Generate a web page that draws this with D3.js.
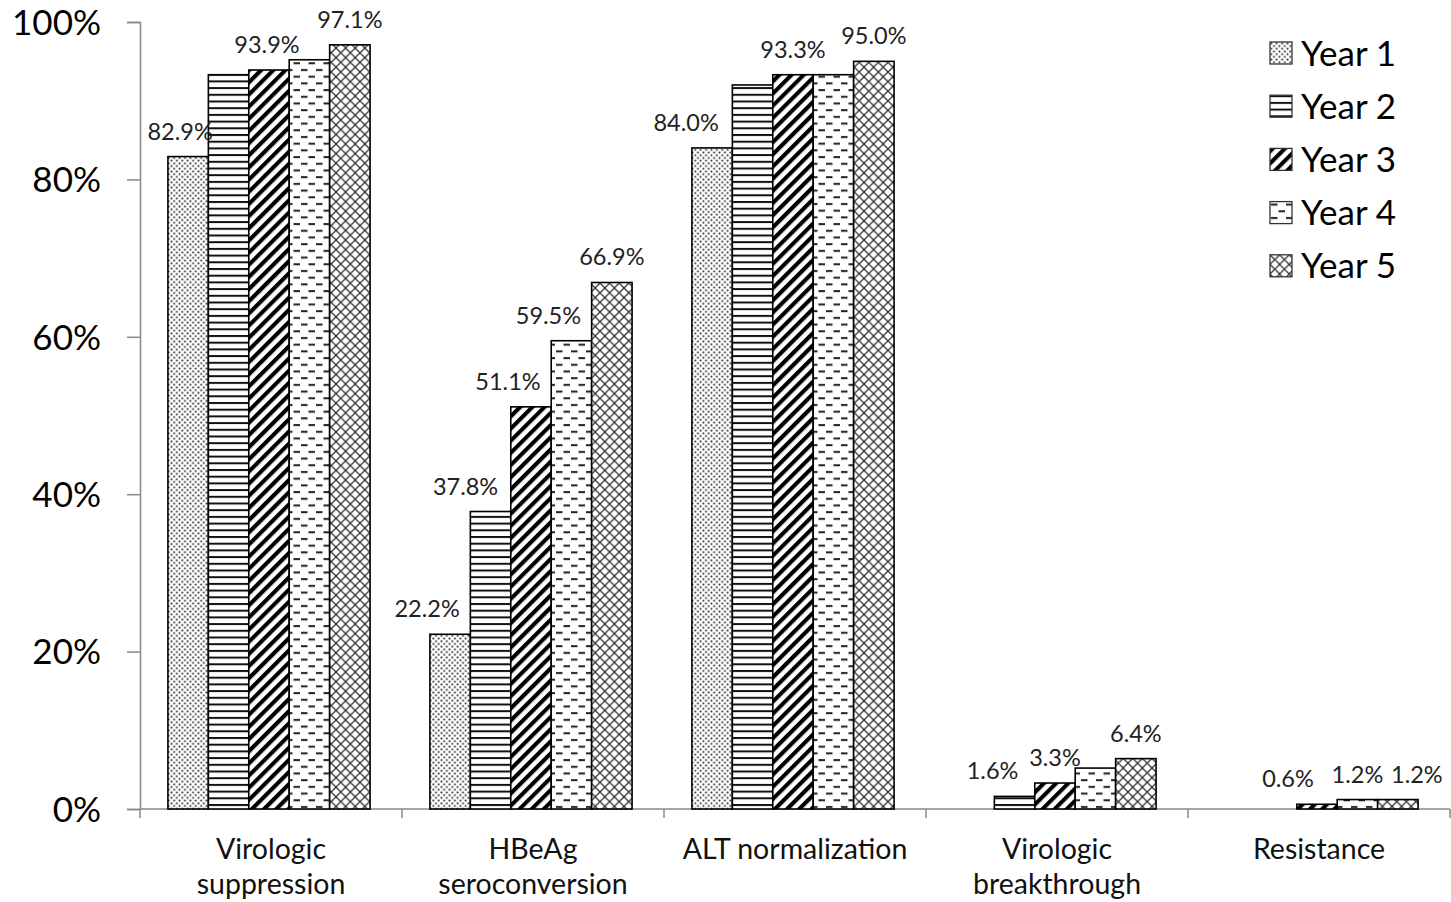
<!DOCTYPE html>
<html>
<head>
<meta charset="utf-8">
<script src="https://cdn.jsdelivr.net/npm/d3@7/dist/d3.min.js"></script>
<style>
  html, body { margin: 0; padding: 0; background: #fff; }
  svg { display: block; font-family: Lato, "Open Sans", sans-serif; }
</style>
</head>
<body>
<svg id="chart" width="1451" height="902"></svg>
<script>
// Outcome categories (two-line labels)
const categories = [
  ["Virologic", "suppression"],
  ["HBeAg", "seroconversion"],
  ["ALT normalization"],
  ["Virologic", "breakthrough"],
  ["Resistance"]
];
const years = ["Year 1", "Year 2", "Year 3", "Year 4", "Year 5"];

// Percent values per year, one entry per category
const year1 = [82.9, 22.2, 84.0, 0, 0];
const year2 = [93.3, 37.8, 92.0, 1.6, 0];
const year3 = [93.9, 51.1, 93.3, 3.3, 0.6];
const year4 = [95.2, 59.5, 93.3, 5.2, 1.2];
const year5 = [97.1, 66.9, 95.0, 6.4, 1.2];
const seriesValues = [year1, year2, year3, year4, year5];

// Which bars carry a value label
const labelled = [
  [true, true, true, false, false],
  [false, true, false, true, false],
  [true, true, true, true, true],
  [false, true, false, false, true],
  [true, true, true, true, true]
];

const yTicks = [0, 20, 40, 60, 80, 100];

const svg = d3.select("#chart");
const margin = { left: 140, right: 1, top: 22, bottom: 93 };
const W = 1451, H = 902;
const x0 = margin.left, x1 = W - margin.right;
const yTop = margin.top, yBottom = H - margin.bottom;

const x = d3.scaleBand().domain(d3.range(categories.length)).range([x0, x1]).paddingInner(0).paddingOuter(0);
const xi = d3.scaleBand().domain(d3.range(years.length)).range([-2, x.bandwidth() - 2]).paddingOuter(0.74).paddingInner(0);
const y = d3.scaleLinear().domain([0, 100]).range([yBottom, yTop]);

// Fill patterns for the five series
const defs = svg.append("defs");
// Year 1: staggered fine dots
{
  const p = defs.append("pattern").attr("id", "pat0").attr("patternUnits", "userSpaceOnUse")
    .attr("width", 5.4).attr("height", 5.4);
  p.append("rect").attr("width", 5.4).attr("height", 5.4).attr("fill", "#fff");
  p.append("rect").attr("x", 0.5).attr("y", 0.5).attr("width", 1.7).attr("height", 1.7).attr("fill", "#222");
  p.append("rect").attr("x", 3.2).attr("y", 3.2).attr("width", 1.7).attr("height", 1.7).attr("fill", "#222");
}
// Year 2: horizontal lines
{
  const p = defs.append("pattern").attr("id", "pat1").attr("patternUnits", "userSpaceOnUse")
    .attr("width", 8).attr("height", 6.7);
  p.append("rect").attr("width", 8).attr("height", 6.7).attr("fill", "#fff");
  p.append("rect").attr("x", 0).attr("y", 0).attr("width", 8).attr("height", 2).attr("fill", "#111");
}
// Year 3: wide diagonal stripes
{
  const p = defs.append("pattern").attr("id", "pat2").attr("patternUnits", "userSpaceOnUse")
    .attr("width", 8.6).attr("height", 8.6).attr("patternTransform", "rotate(45)");
  p.append("rect").attr("width", 8.6).attr("height", 8.6).attr("fill", "#fff");
  p.append("rect").attr("x", 0).attr("y", 0).attr("width", 4.1).attr("height", 8.6).attr("fill", "#000");
}
// Year 4: staggered horizontal dashes
{
  const p = defs.append("pattern").attr("id", "pat3").attr("patternUnits", "userSpaceOnUse")
    .attr("width", 15).attr("height", 13.4);
  p.append("rect").attr("width", 15).attr("height", 13.4).attr("fill", "#fff");
  p.append("rect").attr("x", 1).attr("y", 2).attr("width", 6.5).attr("height", 2).attr("fill", "#222");
  p.append("rect").attr("x", 8.5).attr("y", 8.7).attr("width", 6.5).attr("height", 2).attr("fill", "#222");
}
// Year 5: diagonal cross-hatch
{
  const s = 9.6;
  const p = defs.append("pattern").attr("id", "pat4").attr("patternUnits", "userSpaceOnUse")
    .attr("width", s).attr("height", s);
  p.append("rect").attr("width", s).attr("height", s).attr("fill", "#fff");
  p.append("path")
    .attr("d", `M0,0L${s},${s}M${s},0L0,${s}M${-s/2},${s/2}L${s/2},${1.5*s}M${s/2},${-s/2}L${1.5*s},${s/2}M${s/2},${1.5*s}L${1.5*s},${s/2}M${-s/2},${s/2}L${s/2},${-s/2}`)
    .attr("stroke", "#2a2a2a").attr("stroke-width", 1.2).attr("fill", "none");
}

// Axes
const gy = svg.append("g").attr("transform", `translate(${x0},0)`)
  .call(d3.axisLeft(y).tickValues(yTicks).tickSize(13).tickPadding(26).tickFormat(d => d + "%"));
gy.select(".domain").attr("stroke", "#888").attr("stroke-width", 1.5);
gy.selectAll(".tick line").attr("stroke", "#888").attr("stroke-width", 1.5);
gy.selectAll(".tick text").attr("font-size", 35).attr("fill", "#000").attr("dy", "0.35em")
  .attr("font-family", "Lato, 'Open Sans', sans-serif");

const xTickPos = d3.range(categories.length + 1).map(i => x0 + i * x.step());
svg.append("line").attr("x1", x0).attr("x2", x1).attr("y1", yBottom).attr("y2", yBottom)
  .attr("stroke", "#888").attr("stroke-width", 1.5);
svg.selectAll(".xtick").data(xTickPos).join("line")
  .attr("x1", d => d).attr("x2", d => d).attr("y1", yBottom).attr("y2", yBottom + 9)
  .attr("stroke", "#888").attr("stroke-width", 1.5);

// Bars
const gBars = svg.append("g");
seriesValues.forEach((vals, s) => {
  gBars.selectAll(".bar" + s).data(vals.map((v, c) => ({ v, c })).filter(d => d.v > 0)).join("rect")
    .attr("x", d => x(d.c) + xi(s))
    .attr("y", d => y(d.v))
    .attr("width", xi.bandwidth())
    .attr("height", d => y(0) - y(d.v))
    .attr("fill", `url(#pat${s})`)
    .attr("stroke", "#000").attr("stroke-width", 1.6);
});

// Value labels (several are shifted sideways so neighbours don't collide)
const nudge = {
  "0-0": -8, "0-2": -2,
  "1-0": -23, "1-1": -25, "1-2": -23, "1-3": -23,
  "2-0": -26,
  "3-1": -22,
  "4-2": -29, "4-4": 19
};
const gLab = svg.append("g");
seriesValues.forEach((vals, s) => {
  vals.forEach((v, c) => {
    if (!labelled[s][c]) return;
    gLab.append("text")
      .attr("x", x(c) + xi(s) + xi.bandwidth() / 2 + (nudge[c + "-" + s] || 0))
      .attr("y", y(v) - 17)
      .attr("text-anchor", "middle")
      .attr("font-size", 23.5)
      .attr("fill", "#222")
      .text(v.toFixed(1) + "%");
  });
});

// Category labels
categories.forEach((lines, c) => {
  const t = svg.append("text").attr("text-anchor", "middle").attr("font-size", 28.5).attr("fill", "#111");
  lines.forEach((ln, i) => {
    t.append("tspan").attr("x", x(c) + x.bandwidth() / 2).attr("y", 859 + i * 35).text(ln);
  });
});

// Legend
const legend = svg.append("g").attr("transform", "translate(1270,42)");
years.forEach((name, s) => {
  const g = legend.append("g").attr("transform", `translate(0,${s * 53.2})`);
  g.append("rect").attr("x", 0).attr("y", 0).attr("width", 22).attr("height", 22)
    .attr("fill", `url(#pat${s})`).attr("stroke", "#333").attr("stroke-width", 1.3);
  g.append("text").attr("x", 31).attr("y", 11).attr("dy", "0.36em")
    .attr("font-size", 35).attr("fill", "#000").text(name);
});
</script>
</body>
</html>
